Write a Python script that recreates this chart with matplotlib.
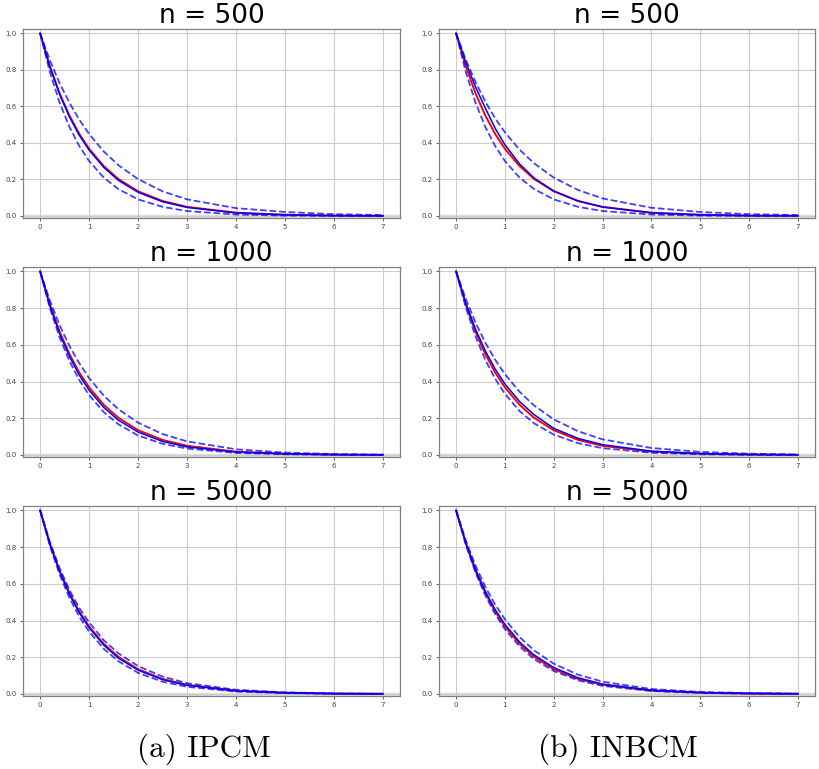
import matplotlib
matplotlib.use("Agg")
import matplotlib.pyplot as plt

# time grid shared by every curve
T = [0, 0.2, 0.4, 0.6, 0.8, 1.0, 1.3, 1.6, 2.0, 2.5, 3.0, 4.0, 5.0, 6.0, 7.0]

# true survival curve (red)
TRUE = [1, 0.819, 0.670, 0.549, 0.449, 0.368, 0.273, 0.202, 0.135, 0.082, 0.050, 0.018, 0.007, 0.002, 0.001]

SIZES = [500, 1000, 5000]
CAPTIONS = ["(a) IPCM", "(b) INBCM"]

# IPCM: estimate, lower band, upper band for each n
IPCM_EST = [
    [1, 0.815, 0.665, 0.542, 0.442, 0.361, 0.266, 0.195, 0.130, 0.078, 0.047, 0.017, 0.006, 0.002, 0.001],
    [1, 0.812, 0.660, 0.536, 0.435, 0.353, 0.259, 0.189, 0.125, 0.074, 0.044, 0.016, 0.006, 0.002, 0.001],
    [1, 0.815, 0.665, 0.542, 0.442, 0.361, 0.266, 0.195, 0.130, 0.078, 0.047, 0.017, 0.006, 0.002, 0.001],
]
IPCM_LO = [
    [1, 0.787, 0.619, 0.487, 0.383, 0.301, 0.210, 0.147, 0.091, 0.050, 0.027, 0.008, 0.002, 0.001, 0.000],
    [1, 0.799, 0.639, 0.511, 0.408, 0.326, 0.233, 0.167, 0.106, 0.061, 0.035, 0.011, 0.004, 0.001, 0.000],
    [1, 0.806, 0.649, 0.523, 0.421, 0.340, 0.246, 0.178, 0.115, 0.067, 0.039, 0.013, 0.005, 0.001, 0.001],
]
IPCM_HI = [
    [1, 0.852, 0.726, 0.619, 0.527, 0.449, 0.353, 0.278, 0.202, 0.135, 0.091, 0.043, 0.022, 0.010, 0.005],
    [1, 0.840, 0.706, 0.593, 0.499, 0.419, 0.323, 0.249, 0.176, 0.114, 0.074, 0.031, 0.013, 0.005, 0.002],
    [1, 0.827, 0.684, 0.566, 0.468, 0.390, 0.293, 0.221, 0.152, 0.095, 0.059, 0.023, 0.009, 0.003, 0.001],
]

# INBCM
INBCM_EST = [
    [1, 0.840, 0.705, 0.590, 0.480, 0.390, 0.285, 0.207, 0.137, 0.082, 0.049, 0.017, 0.006, 0.002, 0.001],
    [1, 0.827, 0.684, 0.566, 0.468, 0.387, 0.291, 0.219, 0.145, 0.090, 0.056, 0.021, 0.008, 0.003, 0.001],
    [1, 0.824, 0.678, 0.559, 0.460, 0.379, 0.283, 0.212, 0.144, 0.088, 0.054, 0.021, 0.008, 0.003, 0.001],
]
INBCM_LO = [
    [1, 0.787, 0.619, 0.487, 0.383, 0.301, 0.210, 0.147, 0.091, 0.050, 0.027, 0.008, 0.002, 0.001, 0.000],
    [1, 0.803, 0.644, 0.517, 0.415, 0.333, 0.239, 0.172, 0.111, 0.064, 0.037, 0.012, 0.004, 0.001, 0.000],
    [1, 0.812, 0.660, 0.536, 0.435, 0.353, 0.259, 0.189, 0.125, 0.074, 0.044, 0.016, 0.006, 0.002, 0.001],
]
INBCM_HI = [
    [1, 0.855, 0.732, 0.626, 0.535, 0.458, 0.363, 0.288, 0.210, 0.142, 0.096, 0.045, 0.022, 0.010, 0.005],
    [1, 0.849, 0.720, 0.611, 0.519, 0.440, 0.344, 0.269, 0.194, 0.129, 0.085, 0.038, 0.017, 0.007, 0.003],
    [1, 0.835, 0.698, 0.583, 0.487, 0.407, 0.310, 0.237, 0.165, 0.105, 0.067, 0.027, 0.011, 0.005, 0.002],
]

W, H = 819, 769
fig = plt.figure(figsize=(W / 100, H / 100), dpi=100)

# axes boxes in pixels: (left, right) per column, (top, bottom) per row
cols = [(23, 400), (439, 815)]
rows = [(29, 218), (267, 457), (506, 696)]

methods = [(IPCM_EST, IPCM_LO, IPCM_HI), (INBCM_EST, INBCM_LO, INBCM_HI)]

for c, (x0, x1) in enumerate(cols):
    est, lo, hi = methods[c]
    for r, (y0, y1) in enumerate(rows):
        ax = fig.add_axes([x0 / W, 1 - y1 / H, (x1 - x0) / W, (y1 - y0) / H])
        ax.axhline(0, color="#e0e0e0", lw=2.5, zorder=0)
        ax.plot(T, TRUE, color="red", lw=1.4)
        ax.plot(T, est[r], color="blue", lw=1.1)
        ax.plot(T, lo[r], color="blue", lw=1.3, ls="--", alpha=0.75)
        ax.plot(T, hi[r], color="blue", lw=1.3, ls="--", alpha=0.75)
        ax.set_xlim(-0.35, 7.35)
        ax.set_ylim(-0.011, 1.024)
        ax.set_xticks(range(8))
        ax.set_yticks([0, 0.2, 0.4, 0.6, 0.8, 1.0])
        ax.grid(True, color="#cccccc", lw=0.8)
        ax.set_axisbelow(True)
        ax.tick_params(labelsize=5, colors="#444444", length=2.5, width=0.6, pad=2)
        for s in ax.spines.values():
            s.set_color("#808080")
            s.set_linewidth(0.9)
        ax.set_title(f"n = {SIZES[r]}", fontsize=19, pad=3)

fig.text(204 / W, 1 - 749 / H, CAPTIONS[0], family="cmr10", fontsize=22.5,
         ha="center", va="center")
fig.text(618 / W, 1 - 749 / H, CAPTIONS[1], family="cmr10", fontsize=22.5,
         ha="center", va="center")

fig.savefig("out.png", dpi=100, facecolor="white")
